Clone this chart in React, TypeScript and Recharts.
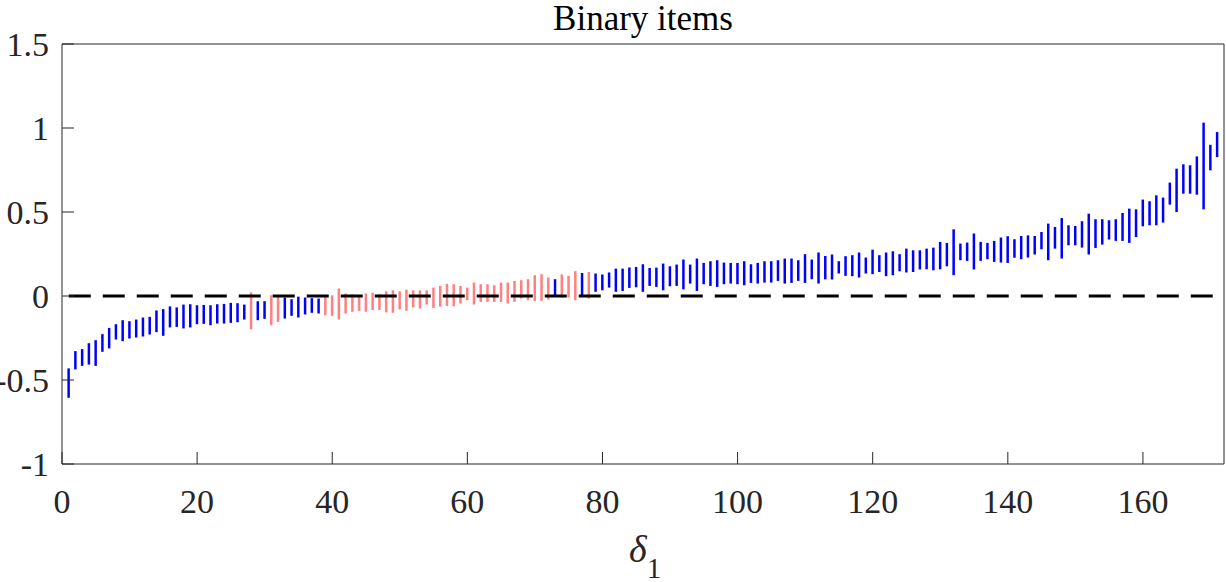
import React from 'react';
import { ComposedChart, Bar, Cell, XAxis, YAxis, ReferenceLine } from 'recharts';

// interval bounds per item (item number = index + 1)
const lowerBounds = [
  -0.606, -0.437, -0.416, -0.408, -0.416, -0.332, -0.312, -0.259, -0.269, -0.253,
  -0.247, -0.241, -0.229, -0.215, -0.237, -0.187, -0.184, -0.193, -0.187, -0.168,
  -0.166, -0.174, -0.164, -0.164, -0.16, -0.156, -0.14, -0.199, -0.144, -0.136,
  -0.174, -0.154, -0.134, -0.118, -0.128, -0.11, -0.1, -0.104, -0.114, -0.118,
  -0.14, -0.104, -0.094, -0.088, -0.094, -0.084, -0.084, -0.098, -0.1, -0.08,
  -0.088, -0.068, -0.074, -0.051, -0.071, -0.063, -0.059, -0.061, -0.045, -0.025,
  -0.051, -0.035, -0.035, -0.035, -0.035, -0.045, -0.035, -0.015, -0.025, -0.029,
  -0.029, -0.021, 0.005, -0.009, -0.009, -0.025, 0.005, -0.015, 0.025, 0.034,
  0.05, 0.025, 0.03, 0.048, 0.052, 0.025, 0.06, 0.054, 0.034, 0.058,
  0.06, 0.04, 0.074, 0.03, 0.07, 0.06, 0.054, 0.07, 0.074, 0.07,
  0.064, 0.078, 0.074, 0.08, 0.08, 0.09, 0.074, 0.078, 0.09, 0.078,
  0.1, 0.074, 0.099, 0.098, 0.134, 0.12, 0.118, 0.11, 0.134, 0.13,
  0.143, 0.118, 0.124, 0.147, 0.14, 0.143, 0.158, 0.159, 0.153, 0.159,
  0.177, 0.124, 0.213, 0.209, 0.158, 0.209, 0.219, 0.203, 0.199, 0.197,
  0.228, 0.219, 0.229, 0.247, 0.278, 0.213, 0.282, 0.223, 0.302, 0.302,
  0.288, 0.247, 0.286, 0.306, 0.336, 0.328, 0.328, 0.316, 0.351, 0.415,
  0.421, 0.421, 0.437, 0.544, 0.5, 0.609, 0.609, 0.603, 0.516, 0.748,
  0.827,
];

const upperBounds = [
  -0.431, -0.328, -0.316, -0.281, -0.263, -0.227, -0.19, -0.168, -0.144, -0.15,
  -0.14, -0.128, -0.124, -0.086, -0.078, -0.062, -0.068, -0.051, -0.049, -0.055,
  -0.053, -0.055, -0.049, -0.047, -0.041, -0.043, -0.051, 0.022, -0.031, -0.031,
  0.005, 0.005, -0.009, -0.019, -0.004, -0.009, -0.013, -0.015, 0.004, 0.004,
  0.045, 0.015, 0.011, 0.004, 0.015, 0.019, 0.011, 0.028, 0.034, 0.028,
  0.038, 0.034, 0.034, 0.034, 0.05, 0.06, 0.072, 0.07, 0.06, 0.05,
  0.08, 0.07, 0.07, 0.064, 0.08, 0.08, 0.09, 0.094, 0.1, 0.124,
  0.13, 0.11, 0.1, 0.128, 0.12, 0.148, 0.137, 0.143, 0.134, 0.128,
  0.14, 0.163, 0.163, 0.17, 0.173, 0.189, 0.167, 0.169, 0.193, 0.177,
  0.187, 0.217, 0.187, 0.223, 0.197, 0.207, 0.213, 0.199, 0.197, 0.197,
  0.207, 0.189, 0.197, 0.207, 0.207, 0.213, 0.223, 0.223, 0.213, 0.249,
  0.217, 0.259, 0.238, 0.247, 0.207, 0.237, 0.243, 0.259, 0.229, 0.276,
  0.243, 0.259, 0.266, 0.249, 0.282, 0.272, 0.272, 0.282, 0.288, 0.322,
  0.316, 0.397, 0.312, 0.318, 0.372, 0.322, 0.316, 0.328, 0.348, 0.356,
  0.338, 0.357, 0.361, 0.357, 0.381, 0.431, 0.411, 0.464, 0.421, 0.417,
  0.445, 0.49, 0.457, 0.457, 0.451, 0.457, 0.494, 0.52, 0.516, 0.574,
  0.564, 0.599, 0.586, 0.675, 0.758, 0.784, 0.778, 0.831, 1.032, 0.9,
  0.976,
];

const xTicks = [0, 20, 40, 60, 80, 100, 120, 140, 160];
const yTicks = [-1, -0.5, 0, 0.5, 1, 1.5];

const BLUE = '#0000ff';
const PINK = '#ff8080';
const AXIS = '#262626';
const FONT = '"Liberation Serif", "Times New Roman", serif';

const data = lowerBounds.map((lo, i) => ({
  item: i + 1,
  interval: [lo, upperBounds[i]],
  coversZero: lo < 0 && upperBounds[i] > 0,
}));

const TitleLabel = ({ viewBox }: any) => {
  const cx = viewBox.x + viewBox.width / 2;
  return (
    <text x={cx} y={30} textAnchor="middle" fontFamily={FONT} fontSize={35} fill="#000">
      Binary items
    </text>
  );
};

const DeltaLabel = ({ viewBox }: any) => {
  const cx = viewBox.x + viewBox.width / 2;
  return (
    <text x={cx - 14} y={562} fontFamily={FONT} fill={AXIS}>
      <tspan fontStyle="italic" fontSize={38}>δ</tspan>
      <tspan fontSize={29} dy={16}>1</tspan>
    </text>
  );
};

const tickStyle = { fill: AXIS, fontFamily: FONT, fontSize: 34 };

export default function App() {
  return (
    <div style={{ position: 'absolute', left: 0, top: 0, background: '#fff' }}>
      <ComposedChart
        width={1226}
        height={582}
        data={data}
        margin={{ top: 43, right: 1, bottom: 58, left: 0 }}
      >
        <XAxis
          dataKey="item"
          type="number"
          domain={[0, 172]}
          ticks={xTicks}
          allowDataOverflow
          height={60}
          stroke={AXIS}
          tickSize={-12}
          tickMargin={37}
          tick={tickStyle}
          label={<DeltaLabel />}
        />
        <XAxis
          xAxisId="top"
          orientation="top"
          type="number"
          domain={[0, 172]}
          ticks={xTicks}
          allowDataOverflow
          height={1}
          stroke={AXIS}
          tickSize={-12}
          tick={false}
          label={<TitleLabel />}
        />
        <YAxis
          type="number"
          domain={[-1, 1.5]}
          ticks={yTicks}
          allowDataOverflow
          width={62}
          stroke={AXIS}
          tickSize={-12}
          tickMargin={25}
          tick={tickStyle}
        />
        <YAxis
          yAxisId="right"
          orientation="right"
          type="number"
          domain={[-1, 1.5]}
          ticks={yTicks}
          allowDataOverflow
          width={1}
          stroke={AXIS}
          tickSize={-12}
          tick={false}
        />
        <ReferenceLine
          segment={[{ x: 1, y: 0 }, { x: 171, y: 0 }]}
          stroke="#000"
          strokeWidth={3}
          strokeDasharray="22 12"
        />
        <Bar dataKey="interval" barSize={2.5} isAnimationActive={false}>
          {data.map((d, i) => (
            <Cell key={i} fill={d.coversZero ? PINK : BLUE} />
          ))}
        </Bar>
      </ComposedChart>
    </div>
  );
}
